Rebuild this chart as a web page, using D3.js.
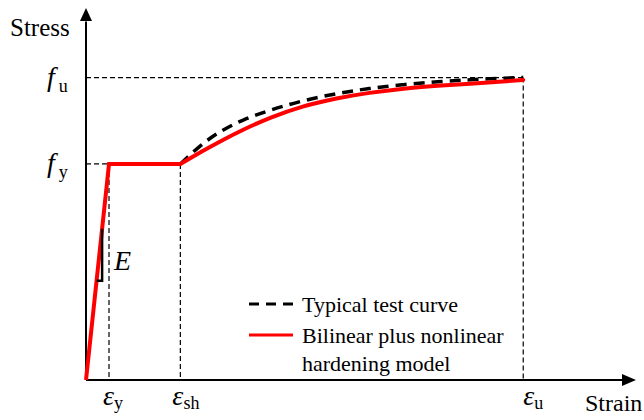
<!DOCTYPE html>
<html>
<head>
<meta charset="utf-8">
<script src="https://cdn.jsdelivr.net/npm/d3@7"></script>
<style>
  html, body { margin: 0; padding: 0; background: #fff; }
  svg { display: block; }
</style>
</head>
<body>
<svg id="chart" width="644" height="420" font-family="'Liberation Serif', 'Times New Roman', 'DejaVu Serif', serif"></svg>
<script>
// Strain in units of the yield strain, stress in units of the yield stress.
const strainEy = 1.0;
const strainEsh = 4.1;
const strainEu = 19.0;
const stressFy = 1.0;
const stressFu = 1.4;

// Strain-axis marks and their subscripts
const strainMarks = [strainEy, strainEsh, strainEu];
const strainSubs = ["y", "sh", "u"];
// Stress-axis marks and their subscripts
const stressMarks = [stressFy, stressFu];
const stressSubs = ["y", "u"];

// Typical test curve: strain-hardening branch
const testStrain = [4.1, 5.0, 5.8, 6.8, 8.0, 9.4, 10.9, 12.3, 13.8, 15.3, 16.7, 18.0, 19.0];
const testStress = [1.0, 1.09, 1.15, 1.205, 1.25, 1.293, 1.327, 1.35, 1.368, 1.381, 1.39, 1.397, 1.40];

// Bilinear plus nonlinear hardening model
const modelStrain = [0, 1.0, 4.1, 5.1, 5.8, 6.8, 8.0, 9.4, 10.9, 12.3, 13.8, 15.3, 16.7, 18.0, 19.0];
const modelStress = [0, 1.0, 1.0, 1.062, 1.103, 1.158, 1.215, 1.268, 1.305, 1.33, 1.35, 1.362, 1.372, 1.381, 1.389];

// Slope triangle marking the elastic modulus
const slopeStress = [0.46, 0.70];

const legendLabels = ["Typical test curve", "Bilinear plus nonlinear", "hardening model"];

const svg = d3.select("#chart");
const x = d3.scaleLinear().domain([0, 23.9]).range([86, 636]);
const y = d3.scaleLinear().domain([0, 1.722]).range([380, 8]);

// Axes with arrow heads
const axisG = svg.append("g");
axisG.append("line")
  .attr("x1", x(0)).attr("y1", y(0)).attr("x2", x(23.3)).attr("y2", y(0))
  .attr("stroke", "#000").attr("stroke-width", 2);
axisG.append("line")
  .attr("x1", x(0)).attr("y1", y(0)).attr("x2", x(0)).attr("y2", y(1.66))
  .attr("stroke", "#000").attr("stroke-width", 2);
axisG.append("path")
  .attr("d", `M${x(23.9)},${y(0)} L${x(23.9) - 14},${y(0) - 6} L${x(23.9) - 14},${y(0) + 6} Z`)
  .attr("fill", "#000");
axisG.append("path")
  .attr("d", `M${x(0)},${y(1.722)} L${x(0) - 6},${y(1.722) + 13} L${x(0) + 6},${y(1.722) + 13} Z`)
  .attr("fill", "#000");

// Guide lines for the characteristic points
const guides = svg.append("g")
  .attr("stroke", "#000").attr("stroke-width", 1.2).attr("stroke-dasharray", "5,3").attr("fill", "none");
guides.append("line").attr("x1", x(0)).attr("y1", y(stressFu)).attr("x2", x(strainEu)).attr("y2", y(stressFu));
guides.append("line").attr("x1", x(0)).attr("y1", y(stressFy)).attr("x2", x(strainEy)).attr("y2", y(stressFy));
guides.append("line").attr("x1", x(strainEy)).attr("y1", y(stressFy)).attr("x2", x(strainEy)).attr("y2", y(0));
guides.append("line").attr("x1", x(strainEsh)).attr("y1", y(stressFy)).attr("x2", x(strainEsh)).attr("y2", y(0));
guides.append("line").attr("x1", x(strainEu)).attr("y1", y(stressFu)).attr("x2", x(strainEu)).attr("y2", y(0));

const line = d3.line().x(d => x(d[0])).y(d => y(d[1])).curve(d3.curveBasis);

// Typical test curve (dashed)
svg.append("path")
  .datum(testStrain.map((s, i) => [s, testStress[i]]))
  .attr("d", line)
  .attr("fill", "none").attr("stroke", "#000").attr("stroke-width", 3.5)
  .attr("stroke-dasharray", "11,7");

// Model curve (red)
const linLine = d3.line().x(d => x(d[0])).y(d => y(d[1]));
svg.append("path")
  .datum(modelStrain.slice(0, 3).map((s, i) => [s, modelStress[i]]))
  .attr("d", linLine)
  .attr("fill", "none").attr("stroke", "#ff0000").attr("stroke-width", 4)
  .attr("stroke-linejoin", "miter");
svg.append("path")
  .datum(modelStrain.slice(2).map((s, i) => [s, modelStress[i + 2]]))
  .attr("d", line)
  .attr("fill", "none").attr("stroke", "#ff0000").attr("stroke-width", 4)
  .attr("stroke-linecap", "round");

// Slope triangle for E
const eTop = slopeStress[1] / stressFy * strainEy;
const eBot = slopeStress[0] / stressFy * strainEy;
svg.append("path")
  .attr("d", `M${x(eTop)},${y(slopeStress[1])} L${x(eTop)},${y(slopeStress[0])} L${x(eBot)},${y(slopeStress[0])}`)
  .attr("fill", "none").attr("stroke", "#000").attr("stroke-width", 2.5);
svg.append("text")
  .attr("x", x(eTop) + 12).attr("y", y(slopeStress[0]) - 11)
  .attr("font-size", 28).attr("font-style", "italic").text("E");

// Axis titles
svg.append("text").attr("x", 10).attr("y", 36).attr("font-size", 25).text("Stress");
svg.append("text").attr("x", 585).attr("y", 411).attr("font-size", 24).text("Strain");

// Stress labels f_y, f_u
stressMarks.forEach((v, i) => {
  const t = svg.append("text").attr("x", 47).attr("y", y(v) + 8);
  t.append("tspan").attr("font-size", 28).attr("font-style", "italic").text("f");
  t.append("tspan").attr("font-size", 18).attr("dx", 4).attr("dy", 6).text(stressSubs[i]);
});

// Strain labels ε_y, ε_sh, ε_u
const strainDx = [-6, -8, 0];
strainMarks.forEach((v, i) => {
  const t = svg.append("text").attr("x", x(v) + strainDx[i]).attr("y", 405);
  t.append("tspan").attr("font-size", 28).attr("font-style", "italic").text("ε");
  t.append("tspan").attr("font-size", 18).attr("dy", 4).text(strainSubs[i]);
});

// Legend
const lg = svg.append("g");
lg.append("line").attr("x1", 249).attr("x2", 293).attr("y1", 304).attr("y2", 304)
  .attr("stroke", "#000").attr("stroke-width", 3).attr("stroke-dasharray", "10,7");
lg.append("line").attr("x1", 249).attr("x2", 293).attr("y1", 335).attr("y2", 335)
  .attr("stroke", "#ff0000").attr("stroke-width", 3);
lg.append("text").attr("x", 302).attr("y", 312).attr("font-size", 22).text(legendLabels[0]);
lg.append("text").attr("x", 302).attr("y", 343).attr("font-size", 22).text(legendLabels[1]);
lg.append("text").attr("x", 302).attr("y", 371).attr("font-size", 22).text(legendLabels[2]);
</script>
</body>
</html>
